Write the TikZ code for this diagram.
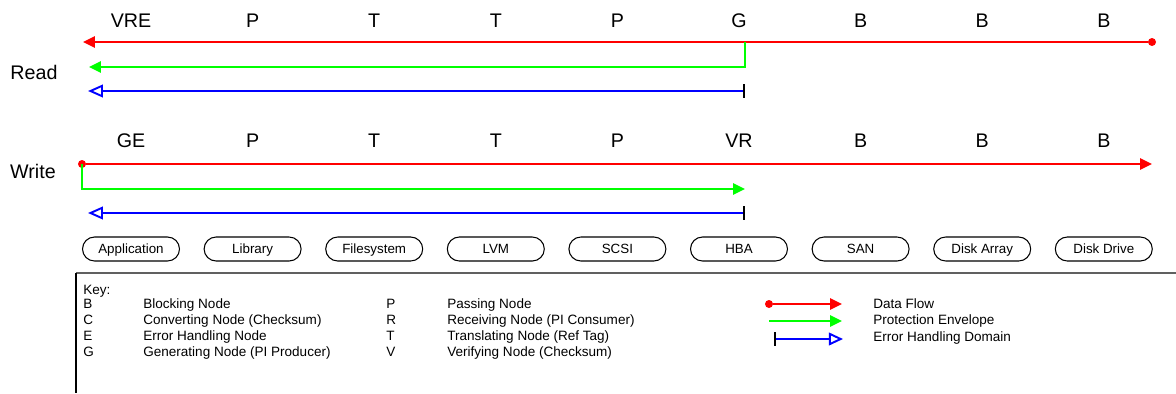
\documentclass[tikz,border=0pt]{standalone}
\usepackage{fontspec}
\setmainfont{Liberation Sans}
\usetikzlibrary{arrows.meta,positioning}

\definecolor{flowred}{RGB}{255,0,0}
\definecolor{envgreen}{RGB}{0,255,0}
\definecolor{domblue}{RGB}{0,0,255}
\definecolor{keygray}{RGB}{96,96,96}

\begin{document}
\begin{tikzpicture}[x=0.02cm,y=-0.02cm,
    lbl/.style={font=\fontsize{11.2}{13}\selectfont,inner sep=0pt,
      text height=8pt,text depth=0pt},
    layer/.style={draw,line width=0.6pt,rounded corners=0.24cm,
      minimum width=1.94cm,minimum height=0.48cm,inner sep=0pt,
      font=\fontsize{7.6}{9}\selectfont,text height=5.4pt,text depth=0pt},
    keytext/.style={anchor=west,inner sep=0pt,font=\fontsize{7.7}{9}\selectfont,
      text height=5.5pt,text depth=0pt},
    dot/.style={circle,fill=flowred,inner sep=0pt,minimum size=0.16cm},
    flow/.style={draw=flowred,line width=1.1pt,
      -{Triangle[length=6.8pt,width=6.4pt]}},
    env/.style={draw=envgreen,line width=1.1pt,
      -{Triangle[length=6.8pt,width=6.4pt]}},
    dom/.style={draw=domblue,line width=1.1pt,
      {Bar[color=black,width=7.8pt]}-{Triangle[open,length=8.5pt,width=7.2pt]}}]
  \useasboundingbox (0,0) rectangle (1176,393);

  \node[lbl] (read) at (34,72) {Read};
  \node[lbl] (write) at (33,171) {Write};

  \foreach \lab [count=\i] in {VRE,P,T,T,P,G,B,B,B}
    \node[lbl] (rd\i) at ({131+121.6*(\i-1)},20) {\lab};
  \foreach \lab [count=\i] in {GE,P,T,T,P,VR,B,B,B}
    \node[lbl] (wr\i) at ({131+121.6*(\i-1)},140) {\lab};
  \foreach \lab [count=\i] in {Application,Library,Filesystem,LVM,SCSI,HBA,SAN,Disk Array,Disk Drive}
    \node[layer] (ly\i) at ({131+121.6*(\i-1)},249) {\lab};

  \node[dot] (rsrc) at (1152,42) {};
  \coordinate (rtip) at (83,42);
  \coordinate (rsplit) at (745,42);
  \coordinate (renv) at (89,67);
  \coordinate (rdom) at (745,91);
  \coordinate (rdomtip) at (88,91);
  \draw[flow] (rsrc) -- (rtip);
  \draw[env] (rsplit) |- (renv);
  \draw[dom] (rdom) -- (rdomtip);

  \node[dot] (wsrc) at (82,164) {};
  \coordinate (wtip) at (1152,164);
  \coordinate (wenv) at (745,189);
  \coordinate (wdom) at (745,213);
  \coordinate (wdomtip) at (88,213);
  \draw[flow] (wsrc) -- (wtip);
  \draw[env] (wsrc.center) |- (wenv);
  \draw[dom] (wdom) -- (wdomtip);

  \coordinate (boxtl) at (76,273);
  \coordinate (boxtr) at (1176,273);
  \coordinate (boxbl) at (76,393);
  \draw[keygray,line width=1.1pt] (boxtl) -- (boxtr);
  \draw[line width=0.6pt] (boxtl) -- (boxbl);

  \node[keytext] (key) at (83,290) {Key:};
  \foreach \k/\txt [count=\i] in {B/Blocking Node,C/{Converting Node (Checksum)},
      E/Error Handling Node,G/{Generating Node (PI Producer)}} {
    \node[keytext] (ka\i) at (83,{288+16*\i}) {\k};
    \node[keytext] (kat\i) at (143,{288+16*\i}) {\txt};
  }
  \foreach \k/\txt [count=\i] in {P/Passing Node,R/{Receiving Node (PI Consumer)},
      T/{Translating Node (Ref Tag)},V/{Verifying Node (Checksum)}} {
    \node[keytext] (kb\i) at (386,{288+16*\i}) {\k};
    \node[keytext] (kbt\i) at (447,{288+16*\i}) {\txt};
  }

  \node[dot] (kdot) at (769,304) {};
  \coordinate (kflow) at (842,304);
  \coordinate (kenv0) at (769,321);
  \coordinate (kenv) at (842,321);
  \coordinate (kdom0) at (774,339);
  \coordinate (kdom) at (843,339);
  \draw[flow] (kdot) -- (kflow);
  \draw[env] (kenv0) -- (kenv);
  \draw[domblue,line width=1.1pt,{Bar[color=black,width=7.8pt]}-{Triangle[open,length=8pt,width=7.2pt]}]
    (kdom0) -- (kdom);
  \node[keytext] (kflowtxt) at (873,304) {Data Flow};
  \node[keytext] (kenvtxt) at (873,320) {Protection Envelope};
  \node[keytext] (kdomtxt) at (873,337) {Error Handling Domain};
\end{tikzpicture}
\end{document}
